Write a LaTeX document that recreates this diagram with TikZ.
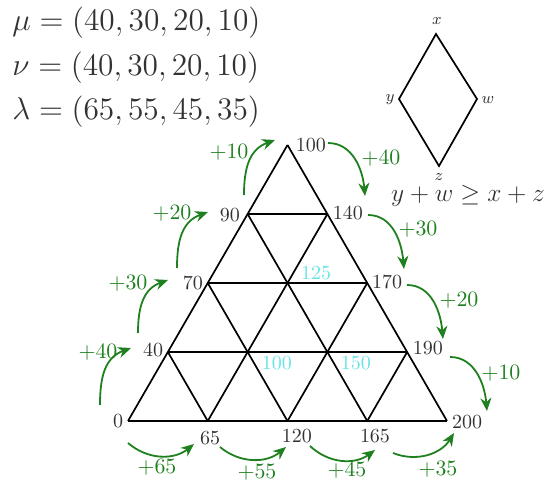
\documentclass[tikz,border=0pt]{standalone}
\usepackage{graphicx}
\usetikzlibrary{calc,arrows.meta}
\definecolor{grn}{RGB}{30,128,30}
\definecolor{cyn}{RGB}{100,228,228}
\definecolor{txt}{RGB}{50,50,50}
\newcommand{\eqtext}[1]{\scalebox{1.09}{\Large$#1$}}
\begin{document}
\begin{tikzpicture}[x=0.5pt,y=-0.5pt,
  grid/.style={line width=0.85pt,black},
  lbl/.style={inner sep=0pt,text=txt,font=\normalsize},
  glbl/.style={inner sep=0pt,text=grn,font=\fontsize{11}{13}\selectfont},
  clbl/.style={inner sep=0pt,text=cyn,font=\normalsize},
  dlbl/.style={inner sep=0pt,text=txt,font=\fontsize{8}{9}\selectfont},
  garr/.style={grn,line width=0.9pt,-{Stealth[length=6.5pt,width=5.5pt]}},
  eq/.style={inner sep=0pt,anchor=west,text=txt}]
\useasboundingbox (0,0) rectangle (548,481);
% equations
\node[eq] (mu) at (12,23) {\eqtext{\mu=(40,30,20,10)}};
\node[eq] (nu) at (12,68) {\eqtext{\nu=(40,30,20,10)}};
\node[eq] (la) at (12,112) {\eqtext{\lambda=(65,55,45,35)}};
% triangle grid
\coordinate (A) at (128,421);
\coordinate (B) at (447,421);
\coordinate (C) at (287.5,145);
\foreach \i in {0,...,4}{
  \coordinate (b\i) at ($(A)!\i/4!(B)$);
  \coordinate (l\i) at ($(A)!\i/4!(C)$);
  \coordinate (r\i) at ($(B)!\i/4!(C)$);
}
\foreach \i [evaluate=\i as \k using int(4-\i)] in {0,...,4}{
  \draw[grid] (b\i) -- (r\k);
  \draw[grid] (b\i) -- (l\i);
}
\foreach \j in {0,...,3}{
  \draw[grid] (l\j) -- (r\j);
}
% vertex labels
\node[lbl] (n0) at (118,421) {0};
\node[lbl] (n40) at (153,350) {40};
\node[lbl] (n70) at (193,283) {70};
\node[lbl] (n90) at (230,215) {90};
\node[lbl] (n100) at (311,145) {100};
\node[lbl] (n140) at (348,213) {140};
\node[lbl] (n170) at (387,282) {170};
\node[lbl] (n190) at (428,348) {190};
\node[lbl] (n200) at (467,422) {200};
\node[lbl] (n65) at (210,438) {65};
\node[lbl] (n120) at (297,436) {120};
\node[lbl] (n165) at (375,436) {165};
% cyan labels
\node[clbl] (c125) at (316,273) {125};
\node[clbl] (c100) at (277,363) {100};
\node[clbl] (c150) at (356,363) {150};
% arrow end points
\coordinate (s1) at (100,405); \coordinate (e1) at (131,348);
\coordinate (s2) at (138,333); \coordinate (e2) at (168,280);
\coordinate (s3) at (177,268); \coordinate (e3) at (208,212);
\coordinate (s4) at (244,195); \coordinate (e4) at (275,140);
\coordinate (s5) at (328,143); \coordinate (e5) at (365,196);
\coordinate (s6) at (368,215); \coordinate (e6) at (404,269);
\coordinate (s7) at (407,285); \coordinate (e7) at (443,339);
\coordinate (s8) at (450,357); \coordinate (e8) at (487,411);
\coordinate (s9) at (128,443); \coordinate (e9) at (194,444);
\coordinate (s10) at (220,447); \coordinate (e10) at (286,447);
\coordinate (s11) at (310,446); \coordinate (e11) at (375,450);
\coordinate (s12) at (393,453); \coordinate (e12) at (454,433);
\foreach \n in {1,...,4}{\draw[garr] (s\n) to[out=90,in=200,looseness=1.1] (e\n);}
\foreach \n in {5,...,8}{\draw[garr] (s\n) to[out=0,in=95] (e\n);}
\foreach \n in {9,...,12}{\draw[garr] (s\n) to[bend right=40] (e\n);}
% green labels
\node[glbl] (g1) at (98,352) {$+40$};
\node[glbl] (g2) at (128,283) {$+30$};
\node[glbl] (g3) at (172,213) {$+20$};
\node[glbl] (g4) at (229,152) {$+10$};
\node[glbl] (g5) at (381,158) {$+40$};
\node[glbl] (g6) at (418,229) {$+30$};
\node[glbl] (g7) at (459,300) {$+20$};
\node[glbl] (g8) at (501,373) {$+10$};
\node[glbl] (g9) at (157,467) {$+65$};
\node[glbl] (g10) at (257,472) {$+55$};
\node[glbl] (g11) at (347,470) {$+45$};
\node[glbl] (g12) at (438,469) {$+35$};
% diamond
\coordinate (X) at (436,34);
\coordinate (Y) at (399,99);
\coordinate (W) at (477,99);
\coordinate (Z) at (439,166);
\draw[grid,line join=miter] (X) -- (W) -- (Z) -- (Y) -- cycle;
\node[dlbl] (lx) at (437,21) {$x$};
\node[dlbl] (ly) at (390,100) {$y$};
\node[dlbl] (lw) at (488,100) {$w$};
\node[dlbl] (lz) at (439,177) {$z$};
\node[inner sep=0pt,text=txt] (ineq) at (468,196) {\scalebox{1.06}{\large$y+w\geq x+z$}};
\end{tikzpicture}
\end{document}
